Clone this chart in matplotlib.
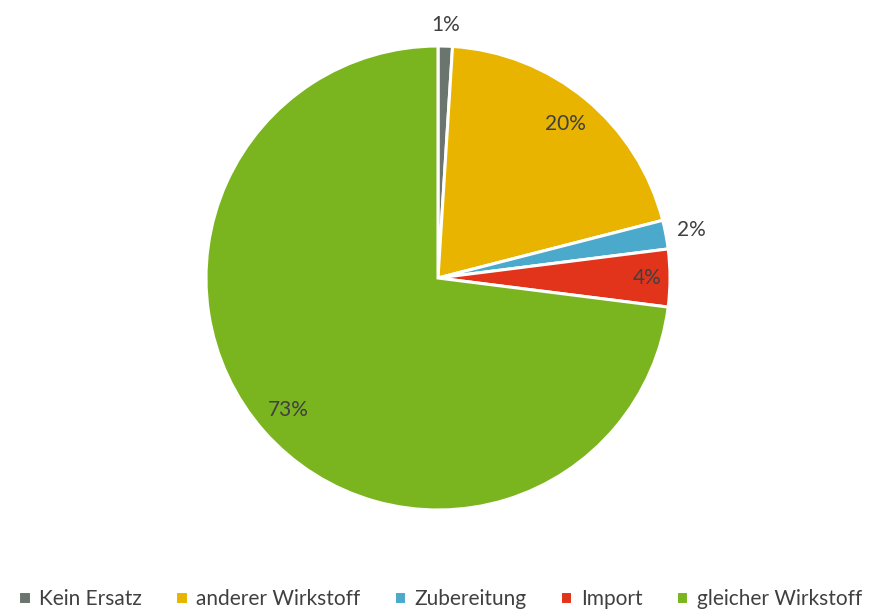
import numpy as np
import matplotlib.pyplot as plt

labels = ["Kein Ersatz", "anderer Wirkstoff", "Zubereitung", "Import", "gleicher Wirkstoff"]
values = [1, 20, 2, 4, 73]
colors = ["#6B756F", "#E8B400", "#4BA9CB", "#E2341A", "#7AB51F"]
# labels drawn outside the pie (small slices)
outside = ["Kein Ersatz", "Zubereitung"]

plt.rcParams['font.family'] = ['Lato', 'DejaVu Sans']
text_color = "#404040"

fig = plt.figure(figsize=(8.8, 6.12), dpi=100)
ax = fig.add_axes([206 / 880, 102 / 612, 464 / 880, 464 / 612])

wedges, texts, autotexts = ax.pie(
    values, colors=colors, startangle=90, counterclock=False,
    autopct='%1.0f%%', pctdistance=0.86,
    wedgeprops=dict(edgecolor="white", linewidth=2.2),
    textprops=dict(color=text_color, fontsize=15),
)

# move labels like Excel's best-fit placement
for lab, w, t in zip(labels, wedges, autotexts):
    ang = np.deg2rad((w.theta1 + w.theta2) / 2)
    if lab in outside:
        r = 1.09 if lab == "Kein Ersatz" else 1.11
    elif lab == "Import":
        r = 0.9
    else:
        continue
    t.set_position((r * np.cos(ang), r * np.sin(ang)))

ax.set_xlim(-1, 1)
ax.set_ylim(-1, 1)
ax.set_aspect('equal')
ax.axis('off')

fig.legend(wedges, labels, loc='lower center', bbox_to_anchor=(0.5, -0.025),
           ncol=5, frameon=False, fontsize=15, labelcolor=text_color,
           handlelength=0.6, handleheight=0.6, handletextpad=0.4,
           columnspacing=1.6)

fig.savefig("out.png", dpi=100)
